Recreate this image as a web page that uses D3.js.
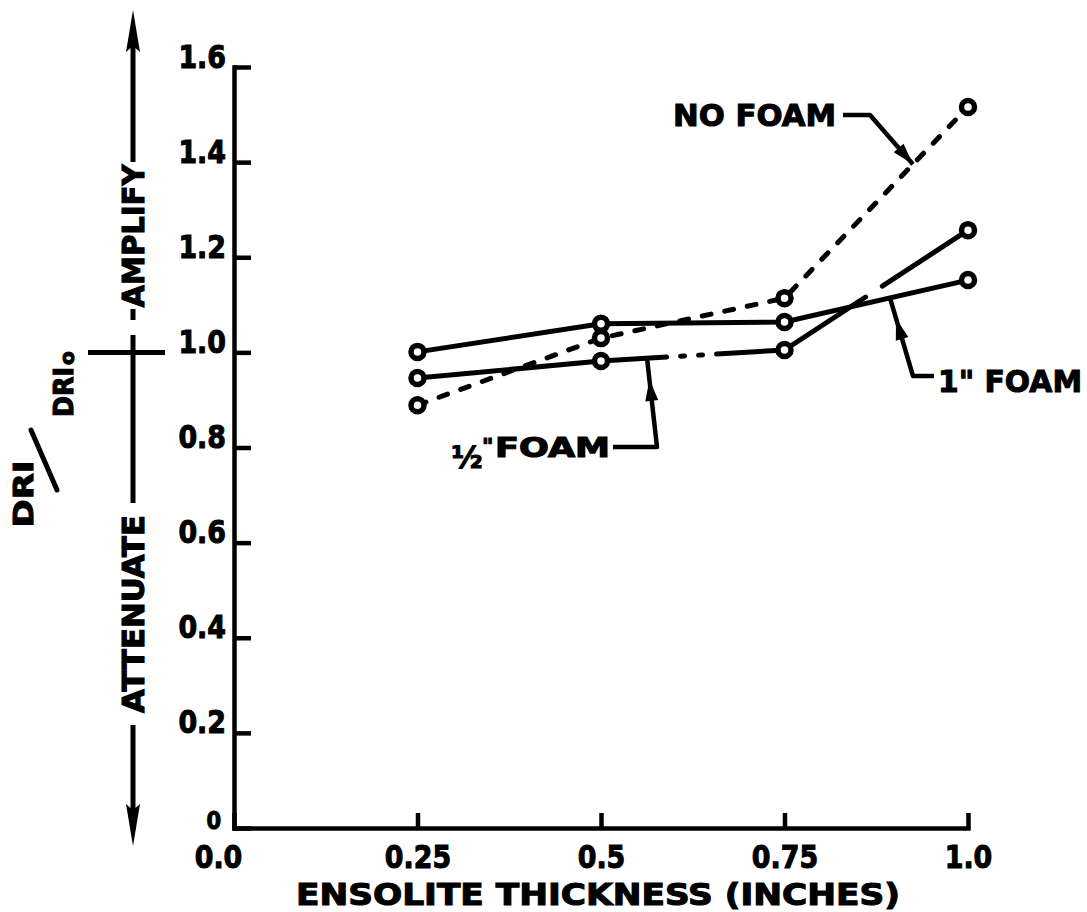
<!DOCTYPE html>
<html>
<head>
<meta charset="utf-8">
<script src="https://cdn.jsdelivr.net/npm/d3@7"></script>
<style>
  html, body { margin: 0; padding: 0; background: #fff; }
  svg { display: block; }
  text { font-family: "DejaVu Sans", "Liberation Sans", sans-serif; font-weight: bold; fill: #000; stroke: #000; stroke-width: 1.1px; }
</style>
</head>
<body>
<svg id="chart" width="1087" height="912"></svg>
<script>
// ---------------- data ----------------
const thickness = [0.25, 0.5, 0.75, 1.0];
const noFoam = [0.889, 1.030, 1.114, 1.516];
const halfInchFoam = [0.946, 0.982, 1.005, 1.257];
const oneInchFoam = [1.001, 1.060, 1.064, 1.152];

const xTicks = [0, 0.25, 0.5, 0.75, 1.0];
const xTickLabels = ["0.0", "0.25", "0.5", "0.75", "1.0"];
const yTicks = [0, 0.2, 0.4, 0.6, 0.8, 1.0, 1.2, 1.4, 1.6];
const yTickLabels = ["0", "0.2", "0.4", "0.6", "0.8", "1.0", "1.2", "1.4", "1.6"];

const xTitle = "ENSOLITE THICKNESS (INCHES)";
const seriesLabels = ["NO FOAM", "\u00BD", "FOAM", "1\" FOAM"];

// ---------------- setup ----------------
const svg = d3.select("#chart");
svg.append("rect").attr("width", 1087).attr("height", 912).attr("fill", "#fff");

const x = d3.scaleLinear().domain([0, 1]).range([234, 968]);
const y = d3.scaleLinear().domain([0, 1.6]).range([828, 67]);

const ink = "#000";

// ---------------- axes ----------------
const xAxis = d3.axisBottom(x)
  .tickValues(xTicks)
  .tickFormat((d, i) => xTickLabels[i])
  .tickSizeInner(-15).tickSizeOuter(0).tickPadding(17);
const gx = svg.append("g").attr("transform", `translate(0,${y(0)})`).call(xAxis);

const yAxis = d3.axisLeft(y)
  .tickValues(yTicks)
  .tickFormat((d, i) => yTickLabels[i])
  .tickSizeInner(-17).tickSizeOuter(0).tickPadding(8);
const gy = svg.append("g").attr("transform", `translate(${x(0)},0)`).call(yAxis);

[gx, gy].forEach(g => {
  g.select(".domain").attr("stroke", ink).attr("stroke-width", 4.5).attr("stroke-linecap", "square");
  g.selectAll(".tick line").attr("stroke", ink).attr("stroke-width", 4.5);
  g.selectAll(".tick text").attr("font-family", "DejaVu Sans, sans-serif")
    .attr("font-weight", "bold").attr("fill", ink).attr("font-size", 32);
});
gx.selectAll(".tick text").attr("dy", "0.71em");
gx.selectAll(".tick text").filter((d, i) => i === 0).attr("dx", -16);
gy.selectAll(".tick text").attr("dy", "0em");
gy.selectAll(".tick text").filter((d, i) => i === 0).attr("font-size", 25).attr("dx", -5);
// narrow the lettering like the hand-lettered original
[gx, gy].forEach(g => g.selectAll(".tick text").each(function () {
  const w = this.getComputedTextLength();
  d3.select(this).attr("textLength", w * 0.84).attr("lengthAdjust", "spacingAndGlyphs");
}));

svg.append("text")
  .attr("x", 598).attr("y", 905)
  .attr("text-anchor", "middle")
  .attr("font-size", 30)
  .attr("textLength", 604).attr("lengthAdjust", "spacingAndGlyphs")
  .text(xTitle);

// ---------------- series ----------------
const line = d3.line().x(d => x(d[0])).y(d => y(d[1]));
const pts = vals => thickness.map((t, i) => [t, vals[i]]);

// 1" foam - solid
svg.append("path").datum(pts(oneInchFoam))
  .attr("d", line).attr("fill", "none").attr("stroke", ink)
  .attr("stroke-width", 5);

// 1/2" foam - long dash with a few breaks
svg.append("path").datum(pts(halfInchFoam))
  .attr("d", line).attr("fill", "none").attr("stroke", ink)
  .attr("stroke-width", 5).attr("stroke-linecap", "round")
  .attr("stroke-dasharray", "250,14,4,14,4,14,165,20,1000");

// no foam - dashed
svg.append("path").datum(pts(noFoam))
  .attr("d", line).attr("fill", "none").attr("stroke", ink)
  .attr("stroke-width", 5).attr("stroke-linecap", "round")
  .attr("stroke-dasharray", "9,14");

// markers
[noFoam, halfInchFoam, oneInchFoam].forEach(vals => {
  svg.append("g").selectAll("circle").data(pts(vals)).join("circle")
    .attr("cx", d => x(d[0])).attr("cy", d => y(d[1]))
    .attr("r", 6.5).attr("fill", "#fff").attr("stroke", ink).attr("stroke-width", 5.5);
});

// ---------------- annotations ----------------
function interp(vals, xv) {
  for (let i = 0; i < thickness.length - 1; i++) {
    if (xv >= thickness[i] && xv <= thickness[i + 1]) {
      const f = (xv - thickness[i]) / (thickness[i + 1] - thickness[i]);
      return vals[i] + f * (vals[i + 1] - vals[i]);
    }
  }
  return vals[vals.length - 1];
}
function arrowHead(tip, from, back, len, hw) {
  const dx = from[0] - tip[0], dy = from[1] - tip[1];
  const L = Math.hypot(dx, dy), ux = dx / L, uy = dy / L;
  const t = [tip[0] + ux * back, tip[1] + uy * back];
  const b = [t[0] + ux * len, t[1] + uy * len];
  const p1 = [b[0] - uy * hw, b[1] + ux * hw];
  const p2 = [b[0] + uy * hw, b[1] - ux * hw];
  svg.append("path").attr("d", `M${t}L${p1}L${b}L${p2}Z`).attr("fill", ink).attr("stroke", ink).attr("stroke-width", 1.5);
}
const leader = ptsArr => svg.append("path").attr("d", d3.line()(ptsArr))
  .attr("fill", "none").attr("stroke", ink).attr("stroke-width", 4.5).attr("stroke-linejoin", "round");

// NO FOAM
const nfTip = [x(0.925), y(interp(noFoam, 0.925))];
svg.append("text").attr("x", 673).attr("y", 126).attr("font-size", 31)
  .attr("textLength", 163).attr("lengthAdjust", "spacingAndGlyphs").text(seriesLabels[0]);
leader([[843, 115], [870, 115], nfTip]);
arrowHead(nfTip, [870, 115], 3, 18, 5.5);

// 1/2" FOAM
const hfTip = [x(0.5627), y(interp(halfInchFoam, 0.5627))];
svg.append("text").attr("x", 467).attr("y", 468).attr("text-anchor", "middle")
  .attr("font-size", 30).text(seriesLabels[1]);
svg.append("text").attr("x", 482).attr("y", 454).attr("font-size", 22).text("\"");
svg.append("text").attr("x", 495).attr("y", 457).attr("font-size", 26)
  .attr("textLength", 115).attr("lengthAdjust", "spacingAndGlyphs").text(seriesLabels[2]);
leader([[613, 447], [657, 447], hfTip]);
arrowHead(hfTip, [657, 447], 24, 18, 5.5);

// 1" FOAM
const ofTip = [x(0.8937), y(interp(oneInchFoam, 0.8937))];
svg.append("text").attr("x", 938).attr("y", 392).attr("font-size", 31)
  .attr("textLength", 144).attr("lengthAdjust", "spacingAndGlyphs").text(seriesLabels[3]);
leader([ofTip, [913, 376], [934, 376]]);
arrowHead(ofTip, [913, 376], 24, 18, 5.5);

// ---------------- left-side label: DRI / DRIo with amplify / attenuate arrows ----------------
const ax = 133;
const vseg = (y1, y2) => svg.append("line").attr("x1", ax).attr("x2", ax).attr("y1", y1).attr("y2", y2)
  .attr("stroke", ink).attr("stroke-width", 5);
vseg(30, 162);
vseg(309, 320);
vseg(335, 503);
vseg(725, 830);
svg.append("path").attr("d", `M${ax},10 L${ax - 7},52 L${ax},46 L${ax + 7},52 Z`).attr("fill", ink);
svg.append("path").attr("d", `M${ax},846 L${ax - 7},804 L${ax},810 L${ax + 7},804 Z`).attr("fill", ink);
svg.append("line").attr("x1", 88).attr("x2", 165).attr("y1", y(1.0)).attr("y2", y(1.0))
  .attr("stroke", ink).attr("stroke-width", 5);

const vtext = (cx, cy, size, len, str) => svg.append("text")
  .attr("transform", `translate(${cx},${cy}) rotate(-90)`)
  .attr("text-anchor", "middle").attr("font-size", size)
  .attr("textLength", len).attr("lengthAdjust", "spacingAndGlyphs").text(str);

vtext(144, 236, 31, 143, "AMPLIFY");
vtext(144, 614, 31, 198, "ATTENUATE");
vtext(33, 494, 27, 67, "DRI");
vtext(73, 392, 26, 50, "DRI");
svg.append("text").attr("transform", `translate(74,358) rotate(-90)`)
  .attr("text-anchor", "middle").attr("font-size", 20).text("o");
svg.append("line").attr("x1", 31).attr("y1", 430).attr("x2", 57).attr("y2", 490)
  .attr("stroke", ink).attr("stroke-width", 5).attr("stroke-linecap", "round");
</script>
</body>
</html>
